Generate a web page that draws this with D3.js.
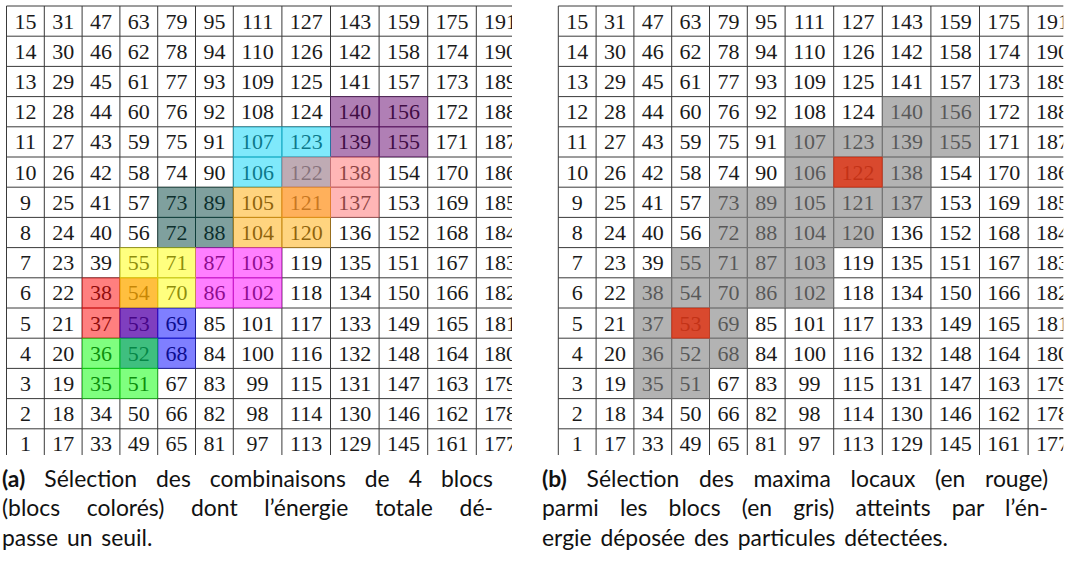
<!DOCTYPE html>
<html>
<head>
<meta charset="utf-8">
<script src="https://cdn.jsdelivr.net/npm/d3@7"></script>
<style>
  html, body { margin: 0; padding: 0; background: #fff; }
  svg { display: block; }
</style>
</head>
<body>
<div id="viz"></div>
<script>
// Numbered blocks, top row first (the last column is cut by the frame)
const gridRows = [
  [15, 31, 47, 63, 79, 95, 111, 127, 143, 159, 175, 191],
  [14, 30, 46, 62, 78, 94, 110, 126, 142, 158, 174, 190],
  [13, 29, 45, 61, 77, 93, 109, 125, 141, 157, 173, 189],
  [12, 28, 44, 60, 76, 92, 108, 124, 140, 156, 172, 188],
  [11, 27, 43, 59, 75, 91, 107, 123, 139, 155, 171, 187],
  [10, 26, 42, 58, 74, 90, 106, 122, 138, 154, 170, 186],
  [9, 25, 41, 57, 73, 89, 105, 121, 137, 153, 169, 185],
  [8, 24, 40, 56, 72, 88, 104, 120, 136, 152, 168, 184],
  [7, 23, 39, 55, 71, 87, 103, 119, 135, 151, 167, 183],
  [6, 22, 38, 54, 70, 86, 102, 118, 134, 150, 166, 182],
  [5, 21, 37, 53, 69, 85, 101, 117, 133, 149, 165, 181],
  [4, 20, 36, 52, 68, 84, 100, 116, 132, 148, 164, 180],
  [3, 19, 35, 51, 67, 83, 99, 115, 131, 147, 163, 179],
  [2, 18, 34, 50, 66, 82, 98, 114, 130, 146, 162, 178],
  [1, 17, 33, 49, 65, 81, 97, 113, 129, 145, 161, 177]
];

// (a) combinaisons de 4 blocs, dans l'ordre de dessin
const comboViolet  = [139, 140, 155, 156];
const comboTeal    = [72, 73, 88, 89];
const comboCyan    = [106, 107, 122, 123];
const comboPink    = [121, 122, 137, 138];
const comboOrange  = [104, 105, 120, 121];
const comboMagenta = [86, 87, 102, 103];
const comboRed     = [37, 38, 53, 54];
const comboYellow  = [54, 55, 70, 71];
const comboBlue    = [52, 53, 68, 69];
const comboGreen   = [35, 36, 51, 52];

// (b) blocs atteints et maxima locaux
const hitCells = [140, 156, 107, 123, 139, 155, 106, 122, 138, 73, 89, 105, 121, 137,
  72, 88, 104, 120, 55, 71, 87, 103, 38, 54, 70, 86, 102, 37, 53, 69, 36, 52, 68, 35, 51];
const peakCells = [122, 53];

const captionA = ["(a)", "Sélection des combinaisons de 4 blocs",
  "(blocs colorés) dont l’énergie totale dé-", "passe un seuil."];
const captionB = ["(b)", "Sélection des maxima locaux (en rouge)",
  "parmi les blocs (en gris) atteints par l’én-", "ergie déposée des particules détectées."];

(function () {
  const W = 1069, H = 565;
  const serif = "'Liberation Serif'";
  const sans = "'Lato'";

  const svg = d3.select("#viz").append("svg")
    .attr("width", W).attr("height", H);

  // colonnes : largeur selon le nombre de chiffres
  const digitW = 10.8, padW = 16.2, rowH = 30.2, top = 6;
  const colDigits = d3.range(gridRows[0].length)
    .map(c => String(d3.max(gridRows, r => r[c])).length);
  const colEdges = [0].concat(Array.from(d3.cumsum(colDigits, d => d * digitW + padW)));
  const y = d3.scaleBand().domain(d3.range(gridRows.length))
    .range([top, top + rowH * gridRows.length]);

  const where = {};
  gridRows.forEach((r, ri) => r.forEach((v, ci) => { where[v] = [ri, ci]; }));

  function panel(x0, clipW, id, overlays) {
    const x = d3.scaleLinear().domain([0, 1]).range([x0, x0 + 1]);
    svg.append("clipPath").attr("id", id)
      .append("rect").attr("x", x0 - 2).attr("y", 0).attr("width", clipW + 2).attr("height", 455);
    const g = svg.append("g").attr("clip-path", `url(#${id})`);

    // nombres
    gridRows.forEach((r, ri) => r.forEach((v, ci) => {
      g.append("text")
        .attr("x", x((colEdges[ci] + colEdges[ci + 1]) / 2))
        .attr("y", y(ri) + y.bandwidth() / 2 + 7.4)
        .attr("text-anchor", "middle")
        .style("font-family", serif).style("font-size", "22px")
        .attr("fill", "#1a1a1a")
        .text(v);
    }));

    // quadrillage
    const x1 = x(colEdges[colEdges.length - 1]);
    d3.range(gridRows.length + 1).forEach(i => {
      const yy = top + i * rowH;
      g.append("line").attr("x1", x(0)).attr("x2", x1).attr("y1", yy).attr("y2", yy)
        .attr("stroke", "#3a3a3a").attr("stroke-width", 1);
    });
    colEdges.forEach(e => {
      g.append("line").attr("x1", x(e)).attr("x2", x(e)).attr("y1", top).attr("y2", top + rowH * gridRows.length)
        .attr("stroke", "#3a3a3a").attr("stroke-width", 1);
    });

    // blocs colorés (transparents, par-dessus)
    overlays.forEach(o => {
      o.cells.forEach(v => {
        const [ri, ci] = where[v];
        g.append("rect")
          .attr("x", x(colEdges[ci])).attr("y", y(ri))
          .attr("width", x(colEdges[ci + 1]) - x(colEdges[ci]))
          .attr("height", y.bandwidth())
          .attr("fill", o.color).attr("fill-opacity", o.alpha)
          .attr("stroke", o.color).attr("stroke-opacity", o.alpha * 0.6);
      });
    });
  }

  panel(6.5, 505.5, "clipA", [
    { cells: comboViolet, color: "#61006b", alpha: 0.5 },
    { cells: comboTeal, color: "#00413d", alpha: 0.5 },
    { cells: comboCyan, color: "#00d4f8", alpha: 0.5 },
    { cells: comboPink, color: "#ff6e6e", alpha: 0.5 },
    { cells: comboOrange, color: "#ffa900", alpha: 0.5 },
    { cells: comboMagenta, color: "#ff00ff", alpha: 0.5 },
    { cells: comboRed, color: "#ff0000", alpha: 0.5 },
    { cells: comboYellow, color: "#ffff00", alpha: 0.5 },
    { cells: comboBlue, color: "#0000ff", alpha: 0.5 },
    { cells: comboGreen, color: "#00ff00", alpha: 0.5 }
  ]);
  panel(558.3, 505, "clipB", [
    { cells: hitCells, color: "#808080", alpha: 0.6 },
    { cells: peakCells, color: "#e62502", alpha: 0.75 }
  ]);

  // légendes justifiées
  const ws0 = 3;
  const probe = svg.append("text").style("font-family", sans).style("font-size", "20px")
    .attr("word-spacing", ws0).text(captionB[3]);
  const nSp = captionB[3].split(" ").length - 1;
  const fs = 20 * (406 - nSp * ws0) / (probe.node().getComputedTextLength() - nSp * ws0);
  probe.remove();
  const base = [486.5, 516.2, 545.9];

  function caption(x0, x1, cap) {
    const lines = cap.slice(1);
    lines.forEach((ln, i) => {
      const t = svg.append("text")
        .attr("x", x0).attr("y", base[i])
        .style("font-family", sans).style("font-size", fs + "px")
        .attr("fill", "#111")
        .attr("word-spacing", ws0)
        .style("white-space", "pre");
      let full = ln;
      if (i === 0) {
        t.append("tspan").attr("font-weight", 700).text(cap[0]);
        t.append("tspan").text(" " + ln);
        full = cap[0] + " " + ln;
      } else {
        t.text(ln);
      }
      if (i < lines.length - 1) {
        const w = t.node().getComputedTextLength();
        const n = full.split(" ").length - 1;
        t.attr("word-spacing", ws0 + (x1 - x0 - w) / n);
      }
    });
  }
  caption(2, 493, captionA);
  caption(542, 1048, captionB);
})();
</script>
</body>
</html>
